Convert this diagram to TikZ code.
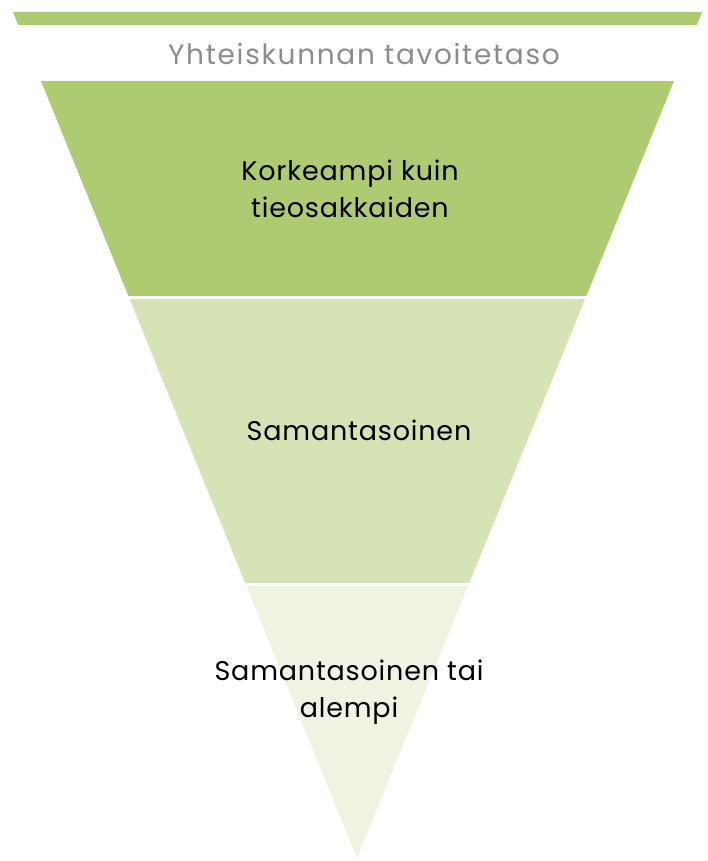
\documentclass[tikz,border=0pt]{standalone}
\usepackage{fontspec}
\setmainfont{Poppins}
\newfontfamily\labelfont[LetterSpace=3]{Poppins}
\newfontfamily\titlefont[LetterSpace=6]{Poppins}
\usepackage{tikz}

\definecolor{leafdark}{RGB}{175,203,114}
\definecolor{leafmid}{RGB}{213,227,181}
\definecolor{leaflight}{RGB}{239,243,225}

\tikzset{
  band/.style={draw=none},
  levellabel/.style={align=center,font=\labelfont\fontsize{27}{37}\selectfont,text=black},
}

\begin{document}
\begin{tikzpicture}[x=1pt,y=-1pt]
        \useasboundingbox (0,0) rectangle (708,861);
        \fill[band,leafdark] (12.9,12) -- (702.2,12) -- (696.8,25) -- (18.2,25) -- cycle;
        \node[font=\titlefont\fontsize{28}{34}\selectfont,text=black!45] (goal) at (364,54) {Yhteiskunnan tavoitetaso};
        \fill[band,leafdark] (41,81) -- (674,81) -- (586.3,296) -- (128.4,296) -- cycle;
        \fill[band,leafmid] (129.7,299) -- (585.1,299) -- (469.2,583) -- (245.2,583) -- cycle;
        \fill[band,leaflight] (246.4,586) -- (468,586) -- (357,858) -- cycle;
        \node[levellabel] (higher) at (350,189) {Korkeampi kuin\\tieosakkaiden};
        \node[levellabel] (same) at (359,430) {Samantasoinen};
        \node[levellabel] (lower) at (349,692) {Samantasoinen tai\\alempi};
      \end{tikzpicture}
\end{document}
